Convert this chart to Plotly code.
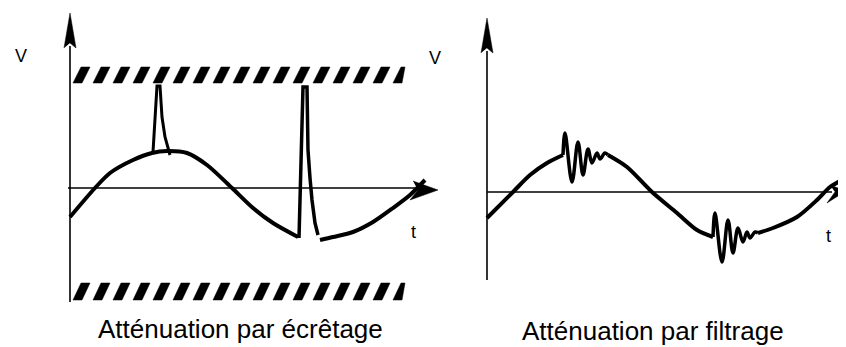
import plotly.graph_objects as go

# Both panels use units of one pixel measured from each axis origin (t right, V up).

# --- left panel: attenuation by clipping ---
clip_wave_t = [0, 25, 40, 63, 82, 97, 117, 137, 162, 183, 203, 228]
clip_wave_v = [-29, 0, 15, 28, 35, 37, 35, 23, 0, -20, -35, -49]
clip_tail_t = [250, 263, 283, 303, 323, 340, 355]
clip_tail_v = [-52, -49, -44, -34, -20, -7, 8]
spike1_t = [83, 87, 90, 91, 92, 95, 100]
spike1_v = [36, 102, 102, 90, 71, 51, 33]
spike2_t = [229, 233, 237, 238, 240, 242, 245, 248]
spike2_v = [-50, 101, 101, 38, 10, -12, -35, -47]
band_top = [105, 121]
band_bottom = [-112, -95]
band_t = [3, 335]
hatch_starts = [3 + 20 * k for k in range(17)]

# --- right panel: attenuation by filtering ---
filt_a_t = [0, 26, 43, 60, 76]
filt_a_v = [-26, 0, 17, 29, 37]
ring1_t = [76, 78, 85, 91, 96, 101, 105, 110, 113, 118, 121]
ring1_v = [37, 59, 10, 50, 17, 43, 29, 39, 33, 39, 37]
filt_b_t = [121, 140, 165, 190, 210, 226]
filt_b_v = [37, 25, 0, -21, -38, -45]
ring2_t = [226, 228, 235, 241, 246, 251, 256, 260, 263, 268, 271]
ring2_v = [-45, -21, -70, -28, -61, -36, -50, -40, -46, -40, -41]
filt_c_t = [271, 286, 310, 330, 343, 355]
filt_c_v = [-41, -36, -25, -8, 5, 12]

fig = go.Figure()


def line(t, v, xa, ya, width, shape="linear", smooth=1.0):
    fig.add_trace(go.Scatter(x=t, y=v, mode="lines", xaxis=xa, yaxis=ya,
                             line=dict(color="black", width=width, shape=shape,
                                       smoothing=smooth),
                             hoverinfo="skip"))


def poly(t, v, xa, ya):
    fig.add_trace(go.Scatter(x=t, y=v, mode="lines", fill="toself", fillcolor="black",
                             xaxis=xa, yaxis=ya, line=dict(color="black", width=0.5),
                             hoverinfo="skip"))


# axes with arrows
line([0, 0], [-114, 142], "x", "y", 1.6)
poly([-6, 0, 6, 0], [140, 175, 140, 145], "x", "y")
line([-2, 345], [0, 0], "x", "y", 1.6)
poly([343, 368, 340, 348], [7, -2, -12, -2], "x", "y")

line([0, 0], [-88, 141], "x2", "y2", 1.6)
poly([-6, 0, 6, 0], [139, 174, 139, 144], "x2", "y2")
line([0, 345], [0, 0], "x2", "y2", 1.6)
poly([343, 359, 340, 348], [7, 1, -11, 0], "x2", "y2")

# hatched limits
for lo, hi in (band_top, band_bottom):
    ht, hv = [], []
    for s in hatch_starts:
        xs = [s, s + 9, s + 17, s + 8]
        xs = [min(x, band_t[1]) for x in xs]
        ht += xs + [xs[0], None]
        hv += [lo, lo, hi, hi, lo, None]
    poly(ht, hv, "x", "y")

# waveforms
line(clip_wave_t, clip_wave_v, "x", "y", 4, "spline", 0.8)
line(clip_tail_t, clip_tail_v, "x", "y", 4, "spline", 0.8)
line(spike1_t, spike1_v, "x", "y", 3)
line(spike2_t, spike2_v, "x", "y", 3.5)

line(filt_a_t, filt_a_v, "x2", "y2", 4, "spline", 0.8)
line(ring1_t, ring1_v, "x2", "y2", 3.5, "spline", 1.0)
line(filt_b_t, filt_b_v, "x2", "y2", 4, "spline", 0.8)
line(ring2_t, ring2_v, "x2", "y2", 3.5, "spline", 1.0)
line(filt_c_t, filt_c_v, "x2", "y2", 4, "spline", 0.8)

font = dict(family="Arial, Liberation Sans, sans-serif", color="black")
labels = [
    ("V", -49, 132, "x", "y", 18),
    ("t", 343, -44, "x", "y", 18),
    ("V", 365, 130, "x", "y", 18),
    ("t", 341, -44, "x2", "y2", 18),
    ("Atténuation par écrêtage", 170, -141, "x", "y", 26),
    ("Atténuation par filtrage", 166, -139, "x2", "y2", 26),
]
for text, t, v, xa, ya, size in labels:
    fig.add_annotation(x=t, y=v, xref=xa, yref=ya, text=text, showarrow=False,
                       font=dict(size=size, **font))

# the page body keeps an 8px margin, so the figure is 8px smaller and starts at (8, 8)
fig.update_layout(
    width=838, height=339, margin=dict(l=0, r=0, t=0, b=0),
    paper_bgcolor="white", plot_bgcolor="white", showlegend=False,
    xaxis=dict(domain=[0, 442 / 838], range=[-62, 380], visible=False),
    yaxis=dict(domain=[0, 1], range=[-159, 180], visible=False),
    xaxis2=dict(domain=[442 / 838, 1], range=[-37, 359], visible=False),
    yaxis2=dict(domain=[0, 1], range=[-155, 184], visible=False, anchor="x2"),
)

fig.write_html("out.html")
